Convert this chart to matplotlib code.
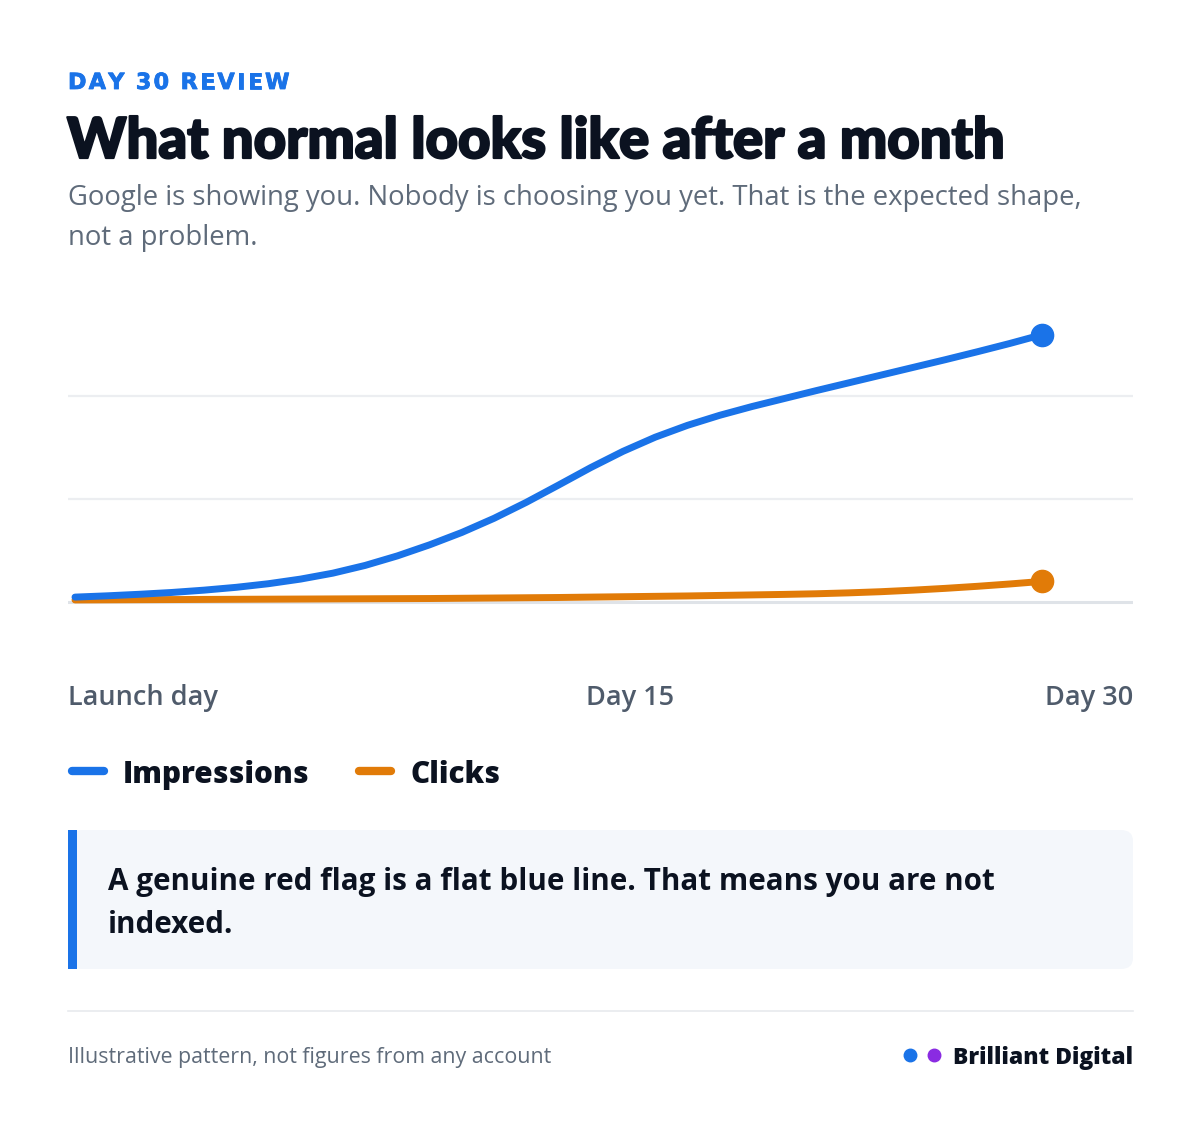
import numpy as np
import matplotlib
matplotlib.use("Agg")
import matplotlib.pyplot as plt
import matplotlib.patheffects as pe
from matplotlib.patches import FancyBboxPatch, Rectangle

# ---- data (rough estimates) ----
days = list(range(31))
impressions = [1.9, 2.4, 3.0, 3.7, 4.6, 5.7, 7.1, 8.9, 11.2, 14.2, 17.9, 22.2,
               27.0, 32.5, 38.7, 45.4, 52.2, 58.5, 64.0, 68.6, 72.5, 75.9,
               79.0, 82.1, 85.1, 88.1, 91.1, 94.1, 97.2, 100.4, 103.8]
clicks = [0.8, 0.85, 0.9, 0.95, 1.0, 1.05, 1.1, 1.15, 1.2, 1.25, 1.3, 1.35,
          1.45, 1.55, 1.65, 1.75, 1.9, 2.05, 2.2, 2.35, 2.55, 2.75, 2.95, 3.2,
          3.55, 4.0, 4.6, 5.3, 6.1, 7.0, 8.0]
grid_vals = [0, 40, 80]
x_labels = ["Launch day", "Day 15", "Day 30"]
series_names = ["Impressions", "Clicks"]

BLUE = "#1a73e8"
ORANGE = "#e17b08"
PURPLE = "#8a2be2"
INK = "#0b1220"
GRAY = "#5f6b7a"

W, H = 1200, 1123
fig = plt.figure(figsize=(12, 11.23), dpi=100)
fig.patch.set_facecolor("white")
renderer = fig.canvas.get_renderer()


def fx(x):
    return x / W


def fy(y):
    return 1 - y / H


def txt(x, y, s, **kw):
    return fig.text(fx(x), fy(y), s, **kw)


def tracked(x, y, s, size, track, **kw):
    # letter by letter, using the rendered width of each glyph, to get letter spacing
    pos = x
    for ch in s:
        if ch == " ":
            pos += size * 0.42 + track
            continue
        t = fig.text(fx(pos), fy(y), ch, fontsize=size, va="baseline", **kw)
        pos += t.get_window_extent(renderer).width + track


# header
tracked(68, 89, "DAY 30 REVIEW", 16, 2.35, family="DejaVu Sans", weight="heavy", color=BLUE,
        path_effects=[pe.withStroke(linewidth=0.6, foreground=BLUE)])
txt(67, 158, "What normal looks like after a month", fontsize=40.5, weight=900,
    family="Lato", color=INK, va="baseline",
    path_effects=[pe.withStroke(linewidth=1.6, foreground=INK)])
txt(68, 205, "Google is showing you. Nobody is choosing you yet. That is the expected shape,",
    fontsize=19.8, family="Open Sans", color=GRAY, va="baseline")
txt(68, 245, "not a problem.", fontsize=19.8, family="Open Sans", color=GRAY, va="baseline")

# chart
ax_l, ax_r, ax_t, ax_b = 68, 1133, 300, 625
ax = fig.add_axes([fx(ax_l), fy(ax_b), (ax_r - ax_l) / W, (ax_b - ax_t) / H])
ax.set_facecolor("none")
px_per_unit = 103 / 40
ax.set_ylim(-(ax_b - 602) / px_per_unit, (602 - ax_t) / px_per_unit)
px_per_day = (1042 - 75) / 30
ax.set_xlim(-(75 - ax_l) / px_per_day, 30 + (ax_r - 1042) / px_per_day)
for g in grid_vals:
    ax.axhline(g, color="#dfe3e8" if g == 0 else "#eceef1",
               lw=2.2 if g == 0 else 1.6, zorder=0)
ax.plot(days, clicks, color=ORANGE, lw=5, solid_capstyle="round",
        solid_joinstyle="round", zorder=2)
ax.plot(days, impressions, color=BLUE, lw=5, solid_capstyle="round",
        solid_joinstyle="round", zorder=3)
ax.plot(days[-1], impressions[-1], "o", color=BLUE, ms=16, zorder=4)
ax.plot(days[-1], clicks[-1], "o", color=ORANGE, ms=16, zorder=4)
ax.axis("off")

# x labels
lab_kw = dict(fontsize=19.5, family="Open Sans", weight="semibold", color="#4f5b6b", va="baseline")
txt(68, 705, x_labels[0], ha="left", **lab_kw)
txt(630, 705, x_labels[1], ha="center", **lab_kw)
txt(1133, 705, x_labels[2], ha="right", **lab_kw)

# legend
for (x0, col, name) in [(68, BLUE, series_names[0]), (355, ORANGE, series_names[1])]:
    fig.add_artist(plt.Line2D([fx(x0 + 4), fx(x0 + 36)], [fy(771), fy(771)],
                              color=col, lw=6, solid_capstyle="round"))
    txt(x0 + 55, 783, name, fontsize=21.3, family="Open Sans", weight="heavy",
        color=INK, va="baseline")

# callout box
box = FancyBboxPatch((fx(70), fy(969)), fx(1133 - 70), (969 - 830) / H,
                     boxstyle="round,pad=0,rounding_size=0.01",
                     transform=fig.transFigure, fc="#f4f7fb", ec="none")
fig.add_artist(box)
fig.add_artist(Rectangle((fx(68), fy(969)), fx(9), (969 - 830) / H,
                         transform=fig.transFigure, fc=BLUE, ec="none"))
call_kw = dict(fontsize=21.3, family="Open Sans", weight="bold", color=INK, va="baseline")
txt(108, 890, "A genuine red flag is a flat blue line. That means you are not", **call_kw)
txt(108, 933, "indexed.", **call_kw)

# footer
fig.add_artist(plt.Line2D([fx(68), fx(1133)], [fy(1011), fy(1011)], color="#e8eaee", lw=1.2))
txt(68, 1063, "Illustrative pattern, not figures from any account", fontsize=15.4,
    family="Open Sans", color=GRAY, va="baseline")
for cx, col in [(910, BLUE), (934, PURPLE)]:
    fig.add_artist(plt.Line2D([fx(cx)], [fy(1055)], marker="o", ms=9, color=col))
txt(1133, 1064, "Brilliant Digital", fontsize=16.5, family="Open Sans", weight="heavy",
    color=INK, ha="right", va="baseline")

fig.savefig("out.png", dpi=100, facecolor="white")
